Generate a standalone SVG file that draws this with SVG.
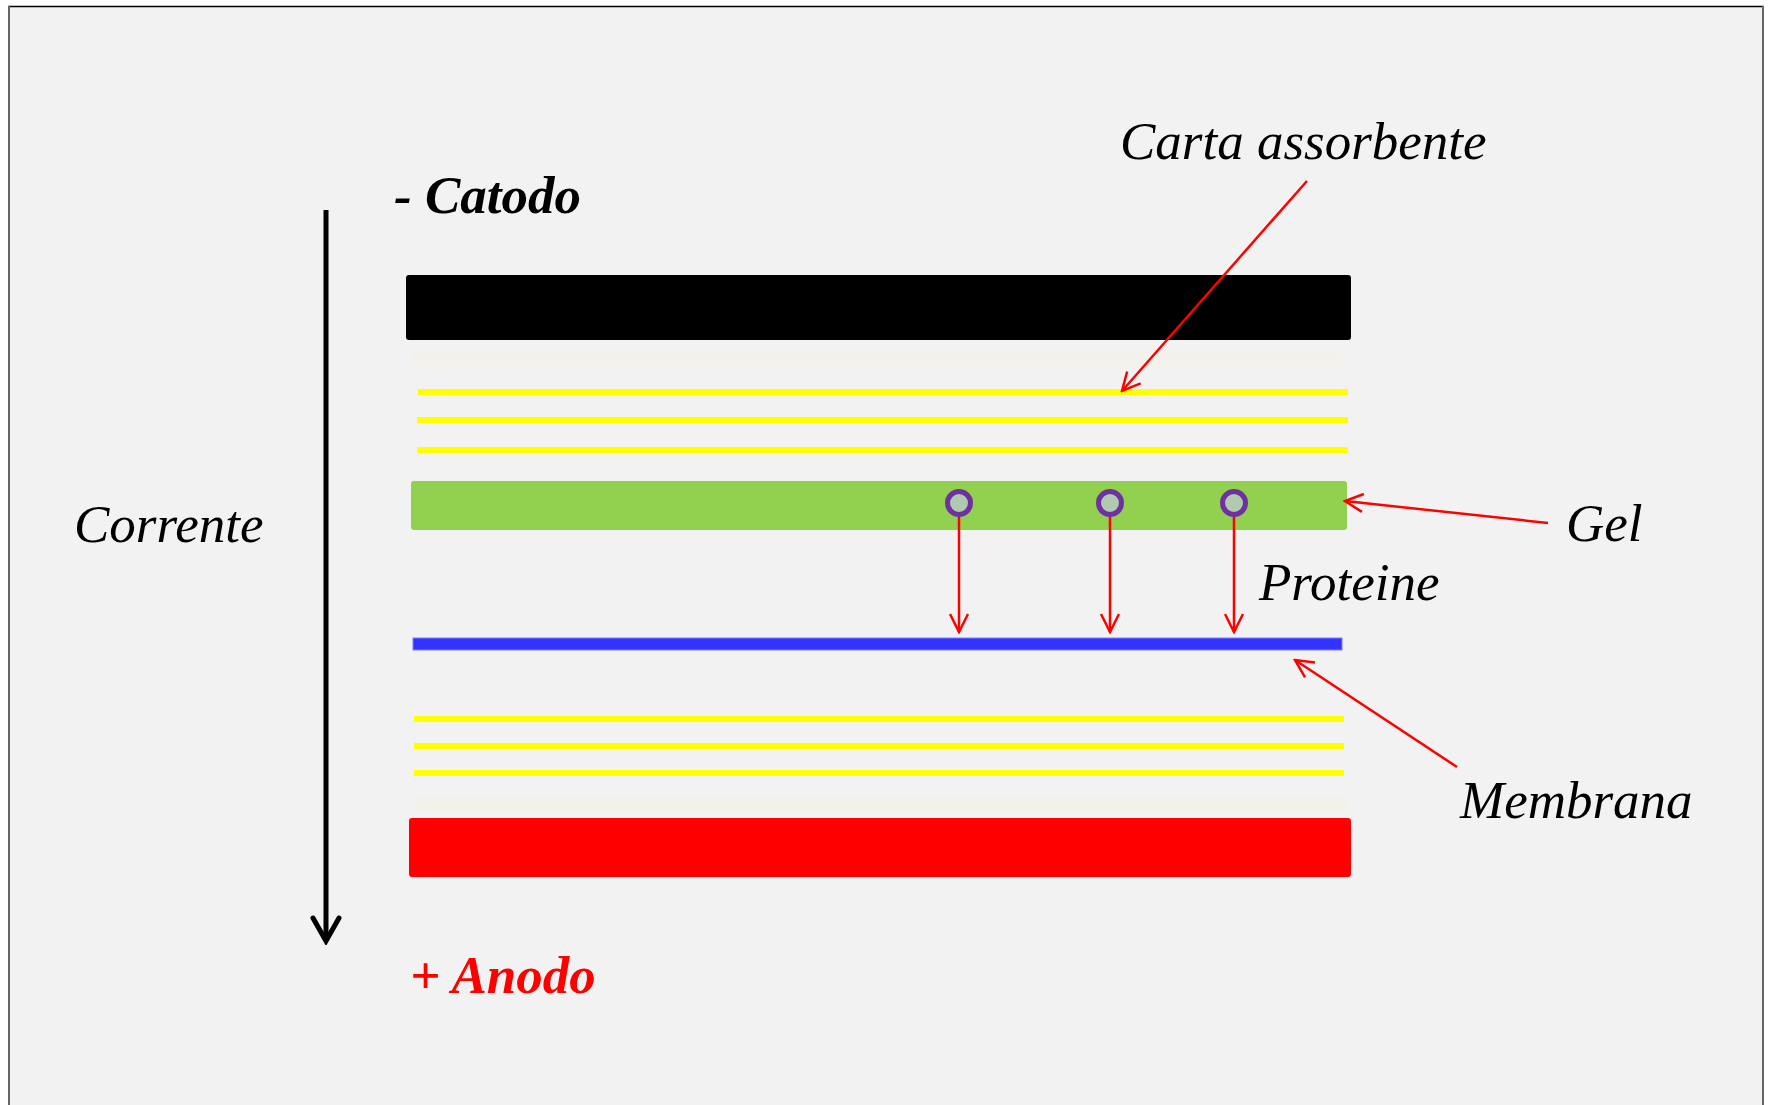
<svg xmlns="http://www.w3.org/2000/svg" width="1769" height="1105" viewBox="0 0 1769 1105">
<defs>
<style>
.lbl{font-family:"Liberation Serif","Times New Roman",serif;font-style:italic;font-size:53px;fill:#000}
.bold{font-weight:bold}
.lead{stroke:#FF0000;stroke-width:2.5;fill:none}
.yl{stroke:#FFFF00;stroke-width:6}
.pale{fill:#F2F2EA}
.prot{fill:#AFCAB0;stroke:#7030A0;stroke-width:5}
</style>
<marker id="ah" markerUnits="userSpaceOnUse" viewBox="0 0 22 20" refX="20" refY="10" markerWidth="22" markerHeight="20" orient="auto">
<path d="M2,1 L20,10 L2,19" fill="none" stroke="#FF0000" stroke-width="2.5"/>
</marker>
<marker id="bh" markerUnits="userSpaceOnUse" viewBox="0 0 30 32" refX="26" refY="16" markerWidth="30" markerHeight="32" orient="auto">
<path d="M3,3 L26,16 L3,29" fill="none" stroke="#000" stroke-width="5" stroke-linecap="round" stroke-linejoin="miter"/>
</marker>
</defs>
<rect x="0" y="0" width="1769" height="1105" fill="#FFFFFF"/>
<rect x="9" y="7" width="1754" height="1100" fill="#F2F2F2"/>
<line x1="8" y1="6.5" x2="1764" y2="6.5" stroke="#000" stroke-width="1.5"/>
<line x1="9" y1="6" x2="9" y2="1105" stroke="#666" stroke-width="2"/>
<line x1="1763" y1="6" x2="1763" y2="1105" stroke="#666" stroke-width="2"/>

<g id="catodo">
<rect x="406" y="275" width="945" height="65" rx="3" fill="#000"/>
<text class="lbl bold" x="394" y="213">- Catodo</text>
</g>
<g id="carta-sup">
<rect class="pale" x="413" y="352" width="930" height="15"/>
<line class="yl" x1="418" y1="392" x2="1348" y2="392"/>
<line class="yl" x1="417" y1="420" x2="1348" y2="420"/>
<line class="yl" x1="417" y1="450" x2="1348" y2="450"/>
</g>
<g id="gel">
<rect x="411" y="481" width="936" height="49" rx="3" fill="#92D050"/>
</g>
<g id="proteine">
<circle class="prot" cx="959" cy="503" r="11.5"/>
<circle class="prot" cx="1110" cy="503" r="11.5"/>
<circle class="prot" cx="1234" cy="503" r="11.5"/>
</g>
<g id="membrana">
<rect x="413" y="638" width="929" height="12" fill="#3333FF" stroke="#7F7FFF" stroke-width="1"/>
</g>
<g id="carta-inf">
<line class="yl" x1="414" y1="719" x2="1344" y2="719"/>
<line class="yl" x1="414" y1="746" x2="1344" y2="746"/>
<line class="yl" x1="414" y1="773" x2="1344" y2="773"/>
<rect class="pale" x="414" y="797" width="935" height="15"/>
</g>
<g id="anodo">
<rect x="409" y="818" width="942" height="59" rx="3" fill="#FF0000"/>
<text class="lbl bold" x="410" y="993" style="fill:#FF0000">+ Anodo</text>
</g>

<g id="labels">
<text class="lbl" x="74" y="542">Corrente</text>
<text class="lbl" x="1120" y="159">Carta assorbente</text>
<text class="lbl" x="1566" y="541">Gel</text>
<text class="lbl" x="1259" y="600">Proteine</text>
<text class="lbl" x="1460" y="818">Membrana</text>
</g>

<g id="connectors">
<line x1="326" y1="210" x2="326" y2="941" stroke="#000" stroke-width="5" marker-end="url(#bh)"/>
<line class="lead" x1="1307" y1="181" x2="1122" y2="391" marker-end="url(#ah)"/>
<line class="lead" x1="1548" y1="523" x2="1345" y2="501" marker-end="url(#ah)"/>
<line class="lead" x1="1457" y1="767" x2="1295" y2="660" marker-end="url(#ah)"/>
<line class="lead" x1="959" y1="517" x2="959" y2="632" marker-end="url(#ah)"/>
<line class="lead" x1="1110" y1="517" x2="1110" y2="632" marker-end="url(#ah)"/>
<line class="lead" x1="1234" y1="517" x2="1234" y2="632" marker-end="url(#ah)"/>
</g>
</svg>
